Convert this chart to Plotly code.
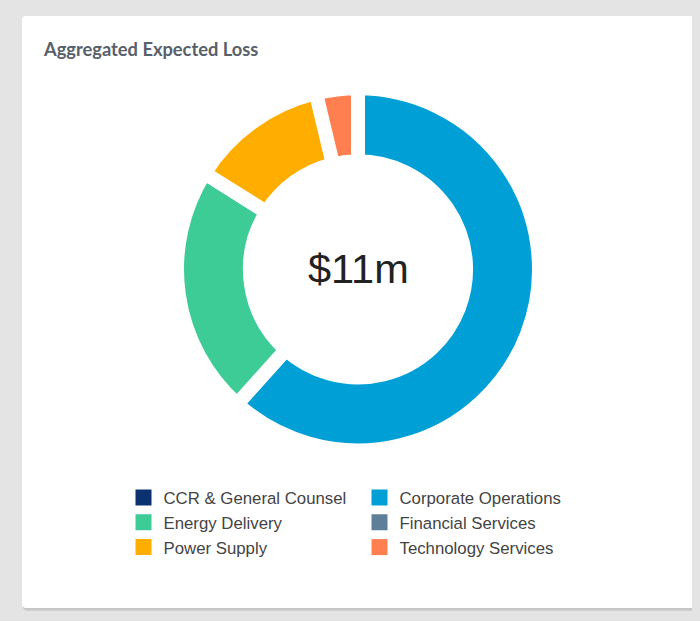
import plotly.graph_objects as go

# ---- data ----
categories = ["CCR & General Counsel", "Corporate Operations", "Energy Delivery",
              "Financial Services", "Power Supply", "Technology Services"]
values_musd = [0, 6.78, 2.45, 0, 1.36, 0.41]
colors = ["#0B3270", "#00A0D7", "#3ECC96", "#5F7F98", "#FFAE00", "#FF7F50"]
title_text = "Aggregated Expected Loss"
center_text = "$11m"

OFF = 8          # page body margin
W, H = 700 - OFF, 621 - OFF


def px_x(x):
    """screen x -> paper x"""
    return (x - OFF) / W


def px_y(y):
    """screen y -> paper y"""
    return 1 - (y - OFF) / H


def rounded_rect(x0, y0, x1, y1, r):
    """SVG path (paper coords) for a rounded rectangle given in screen px."""
    X = lambda v: f"{px_x(v):.6f}"
    Y = lambda v: f"{px_y(v):.6f}"
    return (f"M{X(x0 + r)},{Y(y0)} L{X(x1 - r)},{Y(y0)} Q{X(x1)},{Y(y0)} {X(x1)},{Y(y0 + r)} "
            f"L{X(x1)},{Y(y1 - r)} Q{X(x1)},{Y(y1)} {X(x1 - r)},{Y(y1)} "
            f"L{X(x0 + r)},{Y(y1)} Q{X(x0)},{Y(y1)} {X(x0)},{Y(y1 - r)} "
            f"L{X(x0)},{Y(y0 + r)} Q{X(x0)},{Y(y0)} {X(x0 + r)},{Y(y0)} Z")


fig = go.Figure()

# donut
cx, cy, R = 358, 269.3, 181
fig.add_trace(go.Pie(
    labels=categories, values=values_musd,
    marker=dict(colors=colors, line=dict(color="white", width=14)),
    hole=0.597, sort=False, direction="clockwise", rotation=0,
    textinfo="none", hoverinfo="label+value", showlegend=False,
    domain=dict(x=[px_x(cx - R), px_x(cx + R)], y=[px_y(cy + R), px_y(cy - R)]),
))

# legend entries (square swatches)
for name, col in zip(categories, colors):
    fig.add_trace(go.Scatter(
        x=[None], y=[None], mode="markers", name=name,
        marker=dict(symbol="square", size=16, color=col),
        showlegend=True, hoverinfo="skip",
    ))

shapes = [
    # card shadow
    dict(type="path", xref="paper", yref="paper", path=rounded_rect(23, 17, 698, 611, 5),
         fillcolor="#d0d0d0", line=dict(width=0), layer="below"),
    dict(type="path", xref="paper", yref="paper", path=rounded_rect(22.5, 16.5, 696.5, 609.5, 4),
         fillcolor="#c4c4c4", line=dict(width=0), layer="below"),
    # card
    dict(type="path", xref="paper", yref="paper", path=rounded_rect(22, 16, 695, 608, 4),
         fillcolor="white", line=dict(width=0), layer="below"),
]

annotations = [
    dict(text=title_text, x=px_x(41), y=px_y(49), xref="paper", yref="paper",
         xanchor="left", yanchor="middle", showarrow=False,
         font=dict(family="Lato", size=18.3, weight="bold", color="#58606b")),
    dict(text=center_text, x=px_x(cx), y=px_y(cy - 1), xref="paper", yref="paper",
         xanchor="center", yanchor="middle", showarrow=False,
         font=dict(family="Liberation Sans, Arial", size=41.5, color="#222222")),
]

fig.update_layout(
    width=W, height=H,
    margin=dict(l=0, r=0, t=0, b=0),
    paper_bgcolor="#e4e4e4", plot_bgcolor="rgba(0,0,0,0)",
    xaxis=dict(visible=False), yaxis=dict(visible=False),
    shapes=shapes, annotations=annotations,
    legend=dict(orientation="h", x=px_x(123.5), y=px_y(480), xanchor="left", yanchor="top",
                entrywidth=191, entrywidthmode="pixels", traceorder="normal",
                bgcolor="rgba(0,0,0,0)",
                font=dict(family="Liberation Sans, Arial", size=16.8, color="#444444")),
)

fig.write_html("out.html",
               post_script="document.body.style.backgroundColor='#e4e4e4';")
